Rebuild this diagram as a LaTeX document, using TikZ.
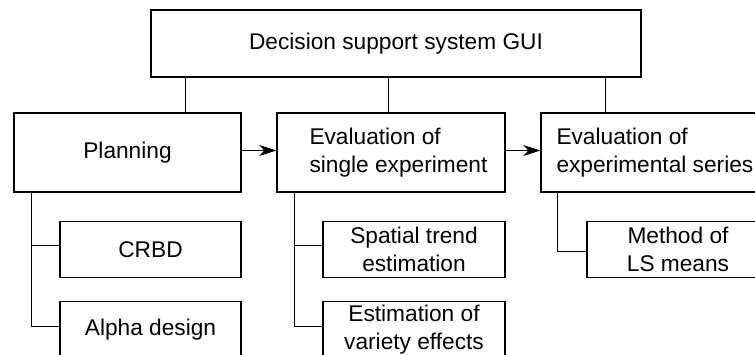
\documentclass[tikz,border=0pt]{standalone}
\usepackage{fontspec}
\setmainfont{Liberation Sans}
\usetikzlibrary{arrows.meta}
\begin{document}
\begin{tikzpicture}[x=1pt,y=-1pt,
  box/.style={draw, line width=1.4pt, inner sep=0pt, align=center,
    font=\fontsize{22.7pt}{28.5pt}\selectfont},
  txt/.style={inner sep=0pt, align=left, anchor=west,
    font=\fontsize{22.7pt}{28.5pt}\selectfont},
  conn/.style={line width=1pt},
  arr/.style={line width=1pt, -{Stealth[length=17pt,width=11pt,inset=5pt]}}]
\clip (0,0) rectangle (755,354);
% top
\node[box, line width=2pt, minimum width=490pt, minimum height=67pt] (gui) at (396,43.5) {Decision support system GUI};
% level 1
\node[box, minimum width=227pt, minimum height=79pt] (plan) at (127.5,152.5) {Planning};
\node[box, minimum width=228pt, minimum height=79pt] (single) at (391,152.5) {};
\node[txt] (singletxt) at ([xshift=33pt]single.west) {Evaluation of\\single experiment};
\node[box, minimum width=228pt, minimum height=79pt] (series) at (655,152.5) {};
\node[txt] (seriestxt) at ([xshift=16pt]series.west) {Evaluation of\\experimental series};
% level 2
\node[box, minimum width=181pt, minimum height=55.6pt] (crbd) at (150.5,249.5) {CRBD};
\node[box, minimum width=181pt, minimum height=55.6pt] (alpha) at (150.5,329.5) {Alpha design};
\node[box, minimum width=182pt, minimum height=55.6pt] (spatial) at (414,249.5) {Spatial trend\\estimation};
\node[box, minimum width=182pt, minimum height=55.6pt] (variety) at (414,329.5) {Estimation of\\variety effects};
\node[box, minimum width=182pt, minimum height=55.6pt] (lsm) at (678,249.5) {Method of\\LS means};
% connectors from GUI
\draw[conn] ([xshift=57.5pt]plan.north) -- ([xshift=57.5pt]plan.north |- gui.south);
\draw[conn] ([xshift=-3pt]single.north) -- ([xshift=-3pt]single.north |- gui.south);
\draw[conn] ([xshift=-50pt]series.north) -- ([xshift=-50pt]series.north |- gui.south);
% arrows
\draw[arr] ([yshift=2pt]plan.east) -- ([yshift=2pt]single.west);
\draw[arr] ([yshift=2pt]single.east) -- ([yshift=2pt]series.west);
% trees
\draw[conn] ([xshift=18pt]plan.south west) |- ([yshift=4pt]crbd.west);
\draw[conn] ([xshift=18pt]plan.south west) |- ([yshift=3pt]alpha.west);
\draw[conn] ([xshift=18pt]single.south west) |- ([yshift=4pt]spatial.west);
\draw[conn] ([xshift=18pt]single.south west) |- ([yshift=3pt]variety.west);
\draw[conn] ([xshift=17pt]series.south west) |- ([yshift=-2pt]lsm.west);
\end{tikzpicture}
\end{document}
